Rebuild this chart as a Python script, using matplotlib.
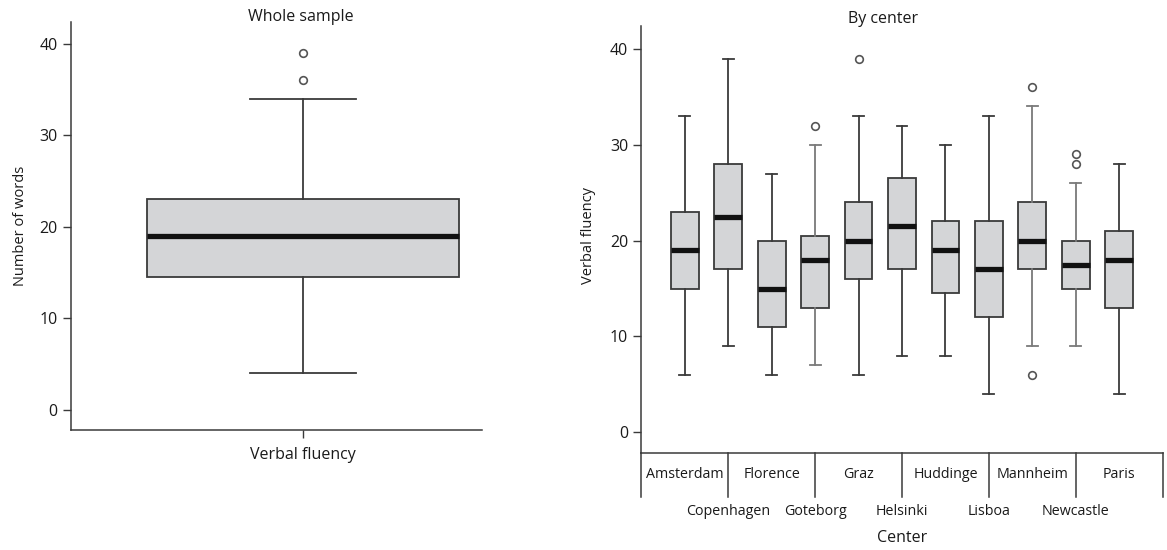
import numpy as np
import matplotlib.pyplot as plt
import matplotlib.transforms as mtransforms

plt.rcParams['font.family'] = ['Open Sans', 'DejaVu Sans']
plt.rcParams['font.size'] = 10.5

# whole sample
whole_lo, whole_q1, whole_med, whole_q3, whole_hi = 4, 14.5, 19, 23, 34
whole_fliers = [39, 36]

# by center
centers = ['Amsterdam', 'Copenhagen', 'Florence', 'Goteborg', 'Graz', 'Helsinki',
           'Huddinge', 'Lisboa', 'Mannheim', 'Newcastle', 'Paris']
whislo = [6, 9, 6, 7, 6, 8, 8, 4, 9, 9, 4]
q1 = [15, 17, 11, 13, 16, 17, 14.5, 12, 17, 15, 13]
med = [19, 22.5, 15, 18, 20, 21.5, 19, 17, 20, 17.5, 18]
q3 = [23, 28, 20, 20.5, 24, 26.5, 22, 22, 24, 20, 21]
whishi = [33, 39, 27, 30, 33, 32, 30, 33, 34, 26, 28]
fliers = [[], [], [], [32], [39], [], [], [], [36, 6], [29, 28], []]
light_whisk = ['Goteborg', 'Mannheim', 'Newcastle']

edge = '#3a3a3a'
fill = '#d4d5d7'
txt = '#1a1a1a'

def style(ax):
    for s in ['top', 'right']:
        ax.spines[s].set_visible(False)
    for s in ['left', 'bottom']:
        ax.spines[s].set_color(edge)
        ax.spines[s].set_linewidth(1.1)
    ax.tick_params(colors=edge, labelcolor=txt, length=6, width=1.0, labelsize=11.5)
    ax.set_yticks([0, 10, 20, 30, 40])

bx_kw = dict(patch_artist=True,
             boxprops=dict(facecolor=fill, edgecolor=edge, linewidth=1.3),
             whiskerprops=dict(color=edge, linewidth=1.3),
             capprops=dict(color=edge, linewidth=1.3),
             medianprops=dict(color='#111111', linewidth=3.8, solid_capstyle='butt'),
             flierprops=dict(marker='o', markersize=5.5, markerfacecolor='none',
                             markeredgecolor='#555555', markeredgewidth=1.2))

fig = plt.figure(figsize=(11.67, 5.5), dpi=100)

# left panel
ax1 = fig.add_axes([71/1167, 1-430/550, 411/1167, 408/550])
stats1 = [dict(whislo=whole_lo, q1=whole_q1, med=whole_med, q3=whole_q3,
               whishi=whole_hi, fliers=whole_fliers, label='Verbal fluency')]
ax1.bxp(stats1, positions=[1], widths=0.8, capwidths=0.27, **bx_kw)
ax1.set_xlim(1 - 232/389, 1 + 179/389)
ax1.set_ylim(-2.18, 42.35)
style(ax1)
ax1.set_xticks([1])
ax1.set_xticklabels(['Verbal fluency'], fontsize=11.5)
ax1.tick_params(axis='x', pad=6)
ax1.set_ylabel('Number of words', fontsize=10.5, color=txt, labelpad=8)
fig.text(301/1167, 1-17/550, 'Whole sample', ha='center', va='center',
         fontsize=11.5, color=txt)

# right panel
ax2 = fig.add_axes([641.3/1167, 1-452.7/550, 521.4/1167, 426.7/550])
pos = np.arange(1, len(centers) + 1)
stats2 = [dict(whislo=whislo[i], q1=q1[i], med=med[i], q3=q3[i], whishi=whishi[i],
               fliers=fliers[i], label=centers[i]) for i in range(len(centers))]
res = ax2.bxp(stats2, positions=pos, widths=0.64, capwidths=0.25, **bx_kw)
for i, c in enumerate(centers):
    if c in light_whisk:
        for w in res['whiskers'][2*i:2*i+2] + res['caps'][2*i:2*i+2]:
            w.set_color('#7a7a7a')
ax2.set_xlim(0, 12)
ax2.set_ylim(-2.13, 42.4)
style(ax2)
ax2.set_xticks([])

# staggered center labels with separators
trans = mtransforms.blended_transform_factory(ax2.transData, ax2.transAxes)
for x in range(0, 13, 2):
    ax2.plot([x, x], [0, -0.103], color=edge, lw=1.1, transform=trans, clip_on=False)
for i, c in enumerate(centers):
    y = -0.052 if i % 2 == 0 else -0.138
    ax2.text(pos[i], y, c, transform=trans, ha='center', va='center',
             fontsize=10.3, color=txt)
ax2.text(6, -0.2, 'Center', transform=trans, ha='center', va='center',
         fontsize=11.5, color=txt)

fig.text(588/1167, 1-235/550, 'Verbal fluency', rotation=90, ha='center', va='center',
         fontsize=10.5, color=txt)
fig.text(883/1167, 1-19/550, 'By center', ha='center', va='center',
         fontsize=11.5, color=txt)

fig.savefig('out.png', dpi=100)
